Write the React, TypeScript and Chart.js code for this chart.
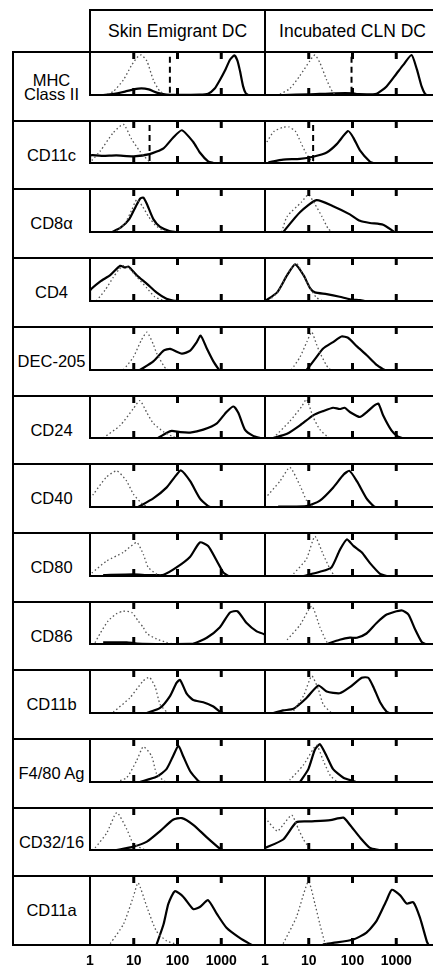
import React, { useEffect, useRef } from "react";
import { Chart, registerables } from "chart.js";

Chart.register(...registerables);

// ---------- text ----------
const columnTitles = ["Skin Emigrant DC", "Incubated CLN DC"];
const markers = ["MHC\nClass II", "CD11c", "CD8α", "CD4", "DEC-205", "CD24", "CD40", "CD80", "CD86", "CD11b", "F4/80 Ag", "CD32/16", "CD11a"];
const tickValues = [1, 10, 100, 1000];
const tickLabels = ["1", "10", "100", "1000"];

// ---------- data: [fluorescence intensity, relative cell number (%)] ----------
// MHC Class II
const mhcSkinCtrl = [[2.5, 2], [3.4, 8], [5.8, 35], [8.9, 69], [12.6, 90], [15, 93], [20, 79], [28, 35], [40, 8], [56, 1], [65, 0]];
const mhcSkinStain = [[2, 0], [3.2, 2], [6.3, 8], [10, 13], [15, 15.5], [22, 13], [35, 5], [56, 1], [100, 0.5], [316, 1], [501, 3], [708, 15], [933, 35], [1259, 60], [1585, 82], [1995, 92], [2344, 80], [2692, 55], [3162, 20], [3631, 4], [4169, 0]];
const mhcClnCtrl = [[2.2, 2], [3.7, 15], [6.3, 45], [10.7, 80], [13.8, 93], [18, 75], [25.7, 35], [36, 5], [45, 0]];
const mhcClnStain = [[2.6, 0], [10, 1.5], [40, 4], [105, 4], [130, 2], [355, 3], [600, 20], [1020, 50], [1450, 70], [2240, 93], [2950, 60], [3800, 20], [4570, 2], [5000, 0]];
// CD11c
const cd11cSkinCtrl = [[1.1, 6], [1.7, 28], [3.4, 72], [5.8, 92], [8.9, 57], [13.8, 28], [23, 3], [30, 0]];
const cd11cSkinStain = [[1, 0], [1, 18], [2, 17], [4, 18], [10, 16], [23, 21], [48, 35], [79, 60], [126, 78], [229, 50], [324, 25], [500, 4], [661, 0]];
const cd11cClnCtrl = [[1.1, 50], [1.6, 75], [2.6, 85], [3.5, 86], [5, 75], [6.5, 50], [8.5, 25], [11, 8], [13, 2]];
const cd11cClnStain = [[1.2, 2], [2.6, 8], [6.3, 10], [12.6, 15], [25.7, 25], [43.7, 45], [79, 76], [105, 60], [148, 30], [251, 3], [302, 0]];
// CD8α
const cd8SkinCtrl = [[4, 2], [6.3, 20], [8.9, 50], [11.7, 75], [15.8, 60], [22, 35], [32, 15], [50, 2], [60, 0]];
const cd8SkinStain = [[3.2, 0], [5, 10], [7.9, 30], [11.2, 60], [14.1, 78], [16.6, 80], [20, 65], [28, 30], [40, 12], [63, 3], [95, 0]];
const cd8ClnCtrl = [[2.4, 0], [3.2, 36], [6.9, 70], [9.8, 87], [13.8, 65], [20, 36], [28, 7], [35, 0]];
const cd8ClnStain = [[2.6, 0], [6.3, 46], [15, 74], [36, 60], [87, 41], [148, 26], [250, 21], [500, 17], [850, 2], [900, 0]];
// CD4
const cd4SkinCtrl = [[1.4, 0], [2.2, 25], [3.4, 55], [4.5, 72], [5.8, 82], [8, 75], [12, 55], [20, 30], [30, 10], [45, 2], [60, 0]];
const cd4SkinStain = [[1, 0], [1, 24], [1.7, 45], [2.9, 60], [4.9, 82], [6.3, 78], [7.6, 80], [11.7, 60], [20, 40], [33, 20], [56, 5], [79, 1], [110, 0]];
const cd4ClnCtrl = [[1.2, 0], [2, 22], [3.2, 62], [5.2, 87], [7.6, 60], [10.7, 30], [15, 8], [20, 1]];
const cd4ClnStain = [[1, 0], [1.9, 20], [3.2, 60], [4.9, 85], [7.6, 60], [10.7, 30], [13.8, 20], [25.7, 16], [51, 10], [87, 4], [148, 2], [195, 0]];
// DEC-205
const decSkinCtrl = [[5.8, 0], [9.8, 30], [15, 70], [20, 88], [28, 60], [33, 40], [48, 10], [56, 2], [65, 0]];
const decSkinStain = [[13.8, 0], [28, 20], [48, 45], [68, 49], [126, 38], [195, 45], [275, 65], [339, 80], [468, 50], [661, 20], [851, 3], [900, 0]];
const decClnCtrl = [[4, 0], [6.3, 30], [9, 65], [11.7, 88], [15, 60], [18, 40], [25, 12], [28, 5], [32, 0]];
const decClnStain = [[8.9, 0], [15, 30], [21.4, 50], [36, 65], [56, 78], [79, 75], [126, 55], [209, 35], [355, 12], [501, 2], [550, 0]];
// CD24
const cd24SkinCtrl = [[2, 0], [4.9, 30], [9.8, 70], [13.8, 89], [20, 60], [28, 35], [48, 15], [79, 3], [100, 0]];
const cd24SkinStain = [[36, 0], [56, 12], [74, 17], [115, 14], [195, 13], [389, 20], [794, 35], [1318, 62], [1905, 75], [2455, 60], [3467, 20], [5370, 5], [7762, 0]];
const cd24ClnCtrl = [[1.55, 0], [3.7, 40], [6.9, 75], [8.9, 92], [12.6, 50], [18, 20], [28, 2], [35, 0]];
const cd24ClnStain = [[1.55, 0], [3.2, 10], [6.3, 30], [12.6, 54], [21.4, 64], [36, 72], [51, 69], [66, 72], [87, 62], [148, 50], [209, 61], [302, 76], [389, 82], [500, 54], [776, 18], [1100, 3], [1400, 0]];
// CD40
const cd40SkinCtrl = [[1, 20], [1.2, 30], [2.4, 70], [4.1, 84], [6.9, 60], [9.8, 30], [16.6, 5], [22, 0]];
const cd40SkinStain = [[12.6, 0], [28, 20], [56, 45], [87, 70], [120, 85], [195, 60], [324, 20], [500, 2], [560, 0]];
const cd40ClnCtrl = [[1, 20], [2.2, 60], [3.7, 92], [6.3, 50], [8.9, 15], [11, 5], [13, 0]];
const cd40ClnStain = [[2, 1], [8.9, 2], [18, 15], [36, 45], [62, 75], [85, 84], [126, 60], [209, 20], [302, 2], [330, 0]];
// CD80
const cd80SkinCtrl = [[1.1, 7], [2.4, 35], [5.8, 55], [11.7, 78], [16.6, 50], [21.4, 20], [33, 5], [48, 0]];
const cd80SkinStain = [[2, 2], [9.8, 4], [23, 2], [48, 3], [95, 20], [195, 45], [324, 78], [501, 70], [794, 35], [1120, 8], [1445, 0]];
const cd80ClnCtrl = [[4.5, 5], [8.9, 40], [13.8, 92], [21.4, 50], [31, 15], [38, 2], [42, 0]];
const cd80ClnStain = [[7.6, 0], [18, 10], [33, 20], [51, 60], [74, 85], [105, 70], [162, 55], [251, 30], [427, 5], [600, 0]];
// CD86
const cd86SkinCtrl = [[1.3, 3], [1.7, 25], [2.6, 55], [4, 72], [5.8, 78], [9, 75], [12.6, 55], [16.6, 39], [20, 25], [33, 12], [56, 4], [80, 0]];
const cd86SkinStain = [[2, 4], [6.9, 4], [12, 1], [50, 0], [229, 1], [468, 15], [933, 40], [1585, 75], [2344, 78], [3802, 50], [6457, 30], [10000, 22], [10000, 0]];
const cd86ClnCtrl = [[3.2, 10], [6.3, 45], [11.7, 90], [18, 40], [25.7, 5], [30, 0]];
const cd86ClnStain = [[25.7, 0], [51, 10], [87, 15], [126, 15], [209, 25], [355, 50], [603, 70], [1318, 80], [1905, 70], [2692, 35], [3802, 5], [4571, 0]];
// CD11b
const cd11bSkinCtrl = [[3.4, 2], [8.1, 35], [16.6, 75], [22.9, 83], [31, 60], [40, 20], [56, 3], [65, 0]];
const cd11bSkinStain = [[20, 0], [40, 12], [68, 40], [95, 70], [115, 77], [162, 45], [229, 30], [389, 25], [661, 15], [933, 3], [1122, 0]];
const cd11bClnCtrl = [[4.5, 5], [7.6, 40], [11.7, 86], [16.6, 55], [21.4, 20], [32, 2], [38, 0]];
const cd11bClnStain = [[1.55, 0], [2.6, 6], [4.5, 10], [8.9, 35], [16.6, 64], [25.7, 50], [51, 46], [87, 60], [162, 82], [229, 82], [302, 60], [427, 25], [603, 3], [700, 0]];
// F4/80 Ag
const f480SkinCtrl = [[4, 0], [6.9, 10], [11.7, 50], [16.6, 82], [25.7, 60], [33, 20], [48, 3], [55, 0]];
const f480SkinStain = [[13.8, 0], [33, 12], [56, 30], [79, 60], [105, 84], [135, 60], [195, 25], [302, 2], [330, 0]];
const f480ClnCtrl = [[3, 0], [3.7, 5], [7.6, 40], [15, 85], [21.4, 50], [31, 15], [43, 2], [48, 0]];
const f480ClnStain = [[6.3, 0], [9.8, 30], [13.8, 75], [18, 88], [25.7, 60], [36, 30], [62, 10], [105, 2], [120, 0]];
// CD32/16
const cd32SkinCtrl = [[1.1, 0], [1.3, 5], [2.4, 40], [4.1, 89], [6.9, 50], [9.8, 15], [16.6, 2], [20, 0]];
const cd32SkinStain = [[4, 0], [9.8, 8], [20, 20], [40, 45], [79, 72], [126, 76], [229, 60], [468, 30], [933, 3], [1100, 0]];
const cd32ClnCtrl = [[1, 77], [1.9, 45], [2.6, 60], [4.1, 83], [5.8, 50], [7.6, 25], [10.7, 3], [13, 0]];
const cd32ClnStain = [[1, 5], [2.6, 25], [5.2, 66], [10.7, 68], [31, 71], [62, 77], [87, 60], [148, 30], [251, 5], [400, 0]];
// CD11a
const cd11aSkinCtrl = [[2.9, 2], [5.8, 30], [9.8, 70], [12.6, 90], [20, 55], [33, 20], [56, 6], [95, 1], [110, 0]];
const cd11aSkinStain = [[33, 0], [48, 30], [62, 60], [87, 78], [135, 70], [229, 52], [324, 55], [500, 65], [794, 45], [1318, 25], [2692, 10], [5012, 0]];
const cd11aClnCtrl = [[2.6, 2], [5.2, 40], [9.8, 92], [13.8, 60], [18, 30], [23, 5], [26, 0]];
const cd11aClnStain = [[21, 1], [36, 3], [105, 8], [209, 18], [355, 35], [603, 65], [794, 80], [1230, 72], [1738, 60], [2455, 62], [3467, 40], [5012, 5], [5500, 0]];

// gate (dashed) positions, null = none
const skinGates = [67, 23, null, null, null, null, null, null, null, null, null, null, null];
const clnGates = [95, 12.6, null, null, null, null, null, null, null, null, null, null, null];

const skinCtrl = [mhcSkinCtrl, cd11cSkinCtrl, cd8SkinCtrl, cd4SkinCtrl, decSkinCtrl, cd24SkinCtrl, cd40SkinCtrl, cd80SkinCtrl, cd86SkinCtrl, cd11bSkinCtrl, f480SkinCtrl, cd32SkinCtrl, cd11aSkinCtrl];
const skinStain = [mhcSkinStain, cd11cSkinStain, cd8SkinStain, cd4SkinStain, decSkinStain, cd24SkinStain, cd40SkinStain, cd80SkinStain, cd86SkinStain, cd11bSkinStain, f480SkinStain, cd32SkinStain, cd11aSkinStain];
const clnCtrl = [mhcClnCtrl, cd11cClnCtrl, cd8ClnCtrl, cd4ClnCtrl, decClnCtrl, cd24ClnCtrl, cd40ClnCtrl, cd80ClnCtrl, cd86ClnCtrl, cd11bClnCtrl, f480ClnCtrl, cd32ClnCtrl, cd11aClnCtrl];
const clnStain = [mhcClnStain, cd11cClnStain, cd8ClnStain, cd4ClnStain, decClnStain, cd24ClnStain, cd40ClnStain, cd80ClnStain, cd86ClnStain, cd11bClnStain, f480ClnStain, cd32ClnStain, cd11aClnStain];

const ctrlSets = [skinCtrl, clnCtrl];
const stainSets = [skinStain, clnStain];
const gateSets = [skinGates, clnGates];

// ---------- layout ----------
const FONT = '"Liberation Sans", Arial, Helvetica, sans-serif';
const COL_LEFT = [90, 265];
const PANEL_W = 175;
const TOP0 = 52;
const ROW_H = 68.7;
const LABEL_LEFT = 13;
const HEADER_TOP = 10;
const PADX = 16;
const PADY = 8;
const AXIS_H = 26;
const TICK_LEN = 7;
const TICK_W = 3;
const rowTop = (i: number) => Math.round(TOP0 + i * ROW_H);

const framePlugin = {
  id: "frame",
  afterDatasetsDraw(chart: any) {
    const { ctx, chartArea } = chart;
    const { left, right, top, bottom } = chartArea;
    const x = chart.scales.x;
    ctx.save();
    ctx.setLineDash([]);
    ctx.strokeStyle = "#000";
    ctx.fillStyle = "#000";
    ctx.lineWidth = 2;
    ctx.strokeRect(left, top, right - left, bottom - top);
    for (const v of tickValues) {
      if (v <= 1) continue;
      const px = x.getPixelForValue(v);
      ctx.fillRect(px - TICK_W / 2, top, TICK_W, TICK_LEN);
      ctx.fillRect(px - TICK_W / 2, bottom - TICK_LEN, TICK_W, TICK_LEN);
    }
    ctx.restore();
  },
};

function Panel({ row, col }: { row: number; col: number }) {
  const ref = useRef<HTMLCanvasElement | null>(null);
  const last = row === markers.length - 1;
  const top = rowTop(row);
  const h = rowTop(row + 1) - top;
  const cw = PANEL_W + 2 * PADX;
  const ch = h + PADY + (last ? AXIS_H : PADY);

  useEffect(() => {
    if (!ref.current) return;
    const toXY = (arr: number[][]) => arr.map(([x, y]) => ({ x, y }));
    const datasets: any[] = [
      {
        data: toXY(ctrlSets[col][row]),
        borderColor: "#555",
        borderWidth: 1.3,
        borderDash: [1.5, 2.5],
        pointRadius: 0,
        tension: 0.2,
      },
      {
        data: toXY(stainSets[col][row]),
        borderColor: "#000",
        borderWidth: 2.2,
        pointRadius: 0,
        tension: 0.2,
      },
    ];
    const g = gateSets[col][row];
    if (g != null) {
      datasets.push({
        data: [{ x: g, y: 5 }, { x: g, y: 95 }],
        borderColor: "#000",
        borderWidth: 2,
        borderDash: [6, 4],
        pointRadius: 0,
      });
    }
    const chart = new Chart(ref.current, {
      type: "line",
      data: { datasets },
      options: {
        responsive: false,
        animation: false,
        layout: { padding: { left: PADX, right: PADX, top: PADY, bottom: last ? 0 : PADY } },
        plugins: { legend: { display: false }, tooltip: { enabled: false } },
        scales: {
          x: {
            type: "logarithmic",
            min: 1,
            max: 10000,
            display: last,
            grid: { display: false, drawTicks: false },
            border: { display: false },
            ticks: {
              autoSkip: false,
              maxRotation: 0,
              padding: 8,
              color: "#000",
              font: { family: FONT, size: 14, weight: "bold" },
              callback: (v: any) => {
                const i = tickValues.indexOf(Number(v));
                return i >= 0 ? tickLabels[i] : "";
              },
            },
            afterBuildTicks: (axis: any) => {
              axis.ticks = tickValues.map((v) => ({ value: v }));
            },
            afterFit: (axis: any) => {
              axis.height = AXIS_H;
            },
          },
          y: { type: "linear", min: 0, max: 100, display: false },
        },
      } as any,
      plugins: [framePlugin],
    });
    return () => chart.destroy();
  }, [row, col]);

  return (
    <canvas
      ref={ref}
      width={cw}
      height={ch}
      style={{ position: "absolute", left: COL_LEFT[col] - PADX, top: top - PADY, width: cw, height: ch }}
    />
  );
}

export default function App() {
  const bottom = rowTop(markers.length);
  return (
    <div
      style={{
        position: "absolute",
        left: 0,
        top: 0,
        width: 433,
        height: 967,
        overflow: "hidden",
        background: "#fff",
        fontFamily: FONT,
        color: "#000",
      }}
    >
      {/* header box */}
      <div
        style={{
          position: "absolute",
          left: COL_LEFT[0] - 1,
          top: HEADER_TOP - 1,
          width: 2 * PANEL_W + 10,
          height: TOP0 - HEADER_TOP,
          borderTop: "2px solid #000",
          borderLeft: "2px solid #000",
        }}
      />
      <div
        style={{
          position: "absolute",
          left: COL_LEFT[1] - 1,
          top: HEADER_TOP - 1,
          width: 2,
          height: TOP0 - HEADER_TOP,
          background: "#000",
        }}
      />
      {columnTitles.map((t, i) => (
        <div
          key={t}
          style={{
            position: "absolute",
            left: COL_LEFT[i],
            top: HEADER_TOP,
            width: PANEL_W,
            height: TOP0 - HEADER_TOP,
            display: "flex",
            alignItems: "center",
            justifyContent: "center",
            fontSize: 17.5,
            whiteSpace: "nowrap",
          }}
        >
          {t}
        </div>
      ))}
      {/* label column */}
      <div
        style={{
          position: "absolute",
          left: LABEL_LEFT - 1,
          top: TOP0 - 1,
          width: 2,
          height: bottom - TOP0 + 2,
          background: "#000",
        }}
      />
      {markers.map((m, i) => {
        const t = rowTop(i);
        const h = rowTop(i + 1) - t;
        return (
          <React.Fragment key={m}>
            <div
              style={{
                position: "absolute",
                left: LABEL_LEFT - 1,
                top: t - 1,
                width: COL_LEFT[0] - LABEL_LEFT + 2,
                height: 2,
                background: "#000",
              }}
            />
            <div
              style={{
                position: "absolute",
                left: LABEL_LEFT,
                top: t,
                width: COL_LEFT[0] - LABEL_LEFT,
                height: h,
                display: "flex",
                alignItems: "center",
                justifyContent: "center",
                textAlign: "center",
                fontSize: 16.5,
                lineHeight: m.includes("\n") ? "14px" : "normal",
                whiteSpace: "pre",
              }}
            >
              {m}
            </div>
          </React.Fragment>
        );
      })}
      <div
        style={{
          position: "absolute",
          left: LABEL_LEFT - 1,
          top: bottom - 1,
          width: COL_LEFT[0] - LABEL_LEFT + 2,
          height: 2,
          background: "#000",
        }}
      />
      {markers.map((m, r) =>
        [0, 1].map((c) => <Panel key={`${r}-${c}`} row={r} col={c} />)
      )}
    </div>
  );
}
